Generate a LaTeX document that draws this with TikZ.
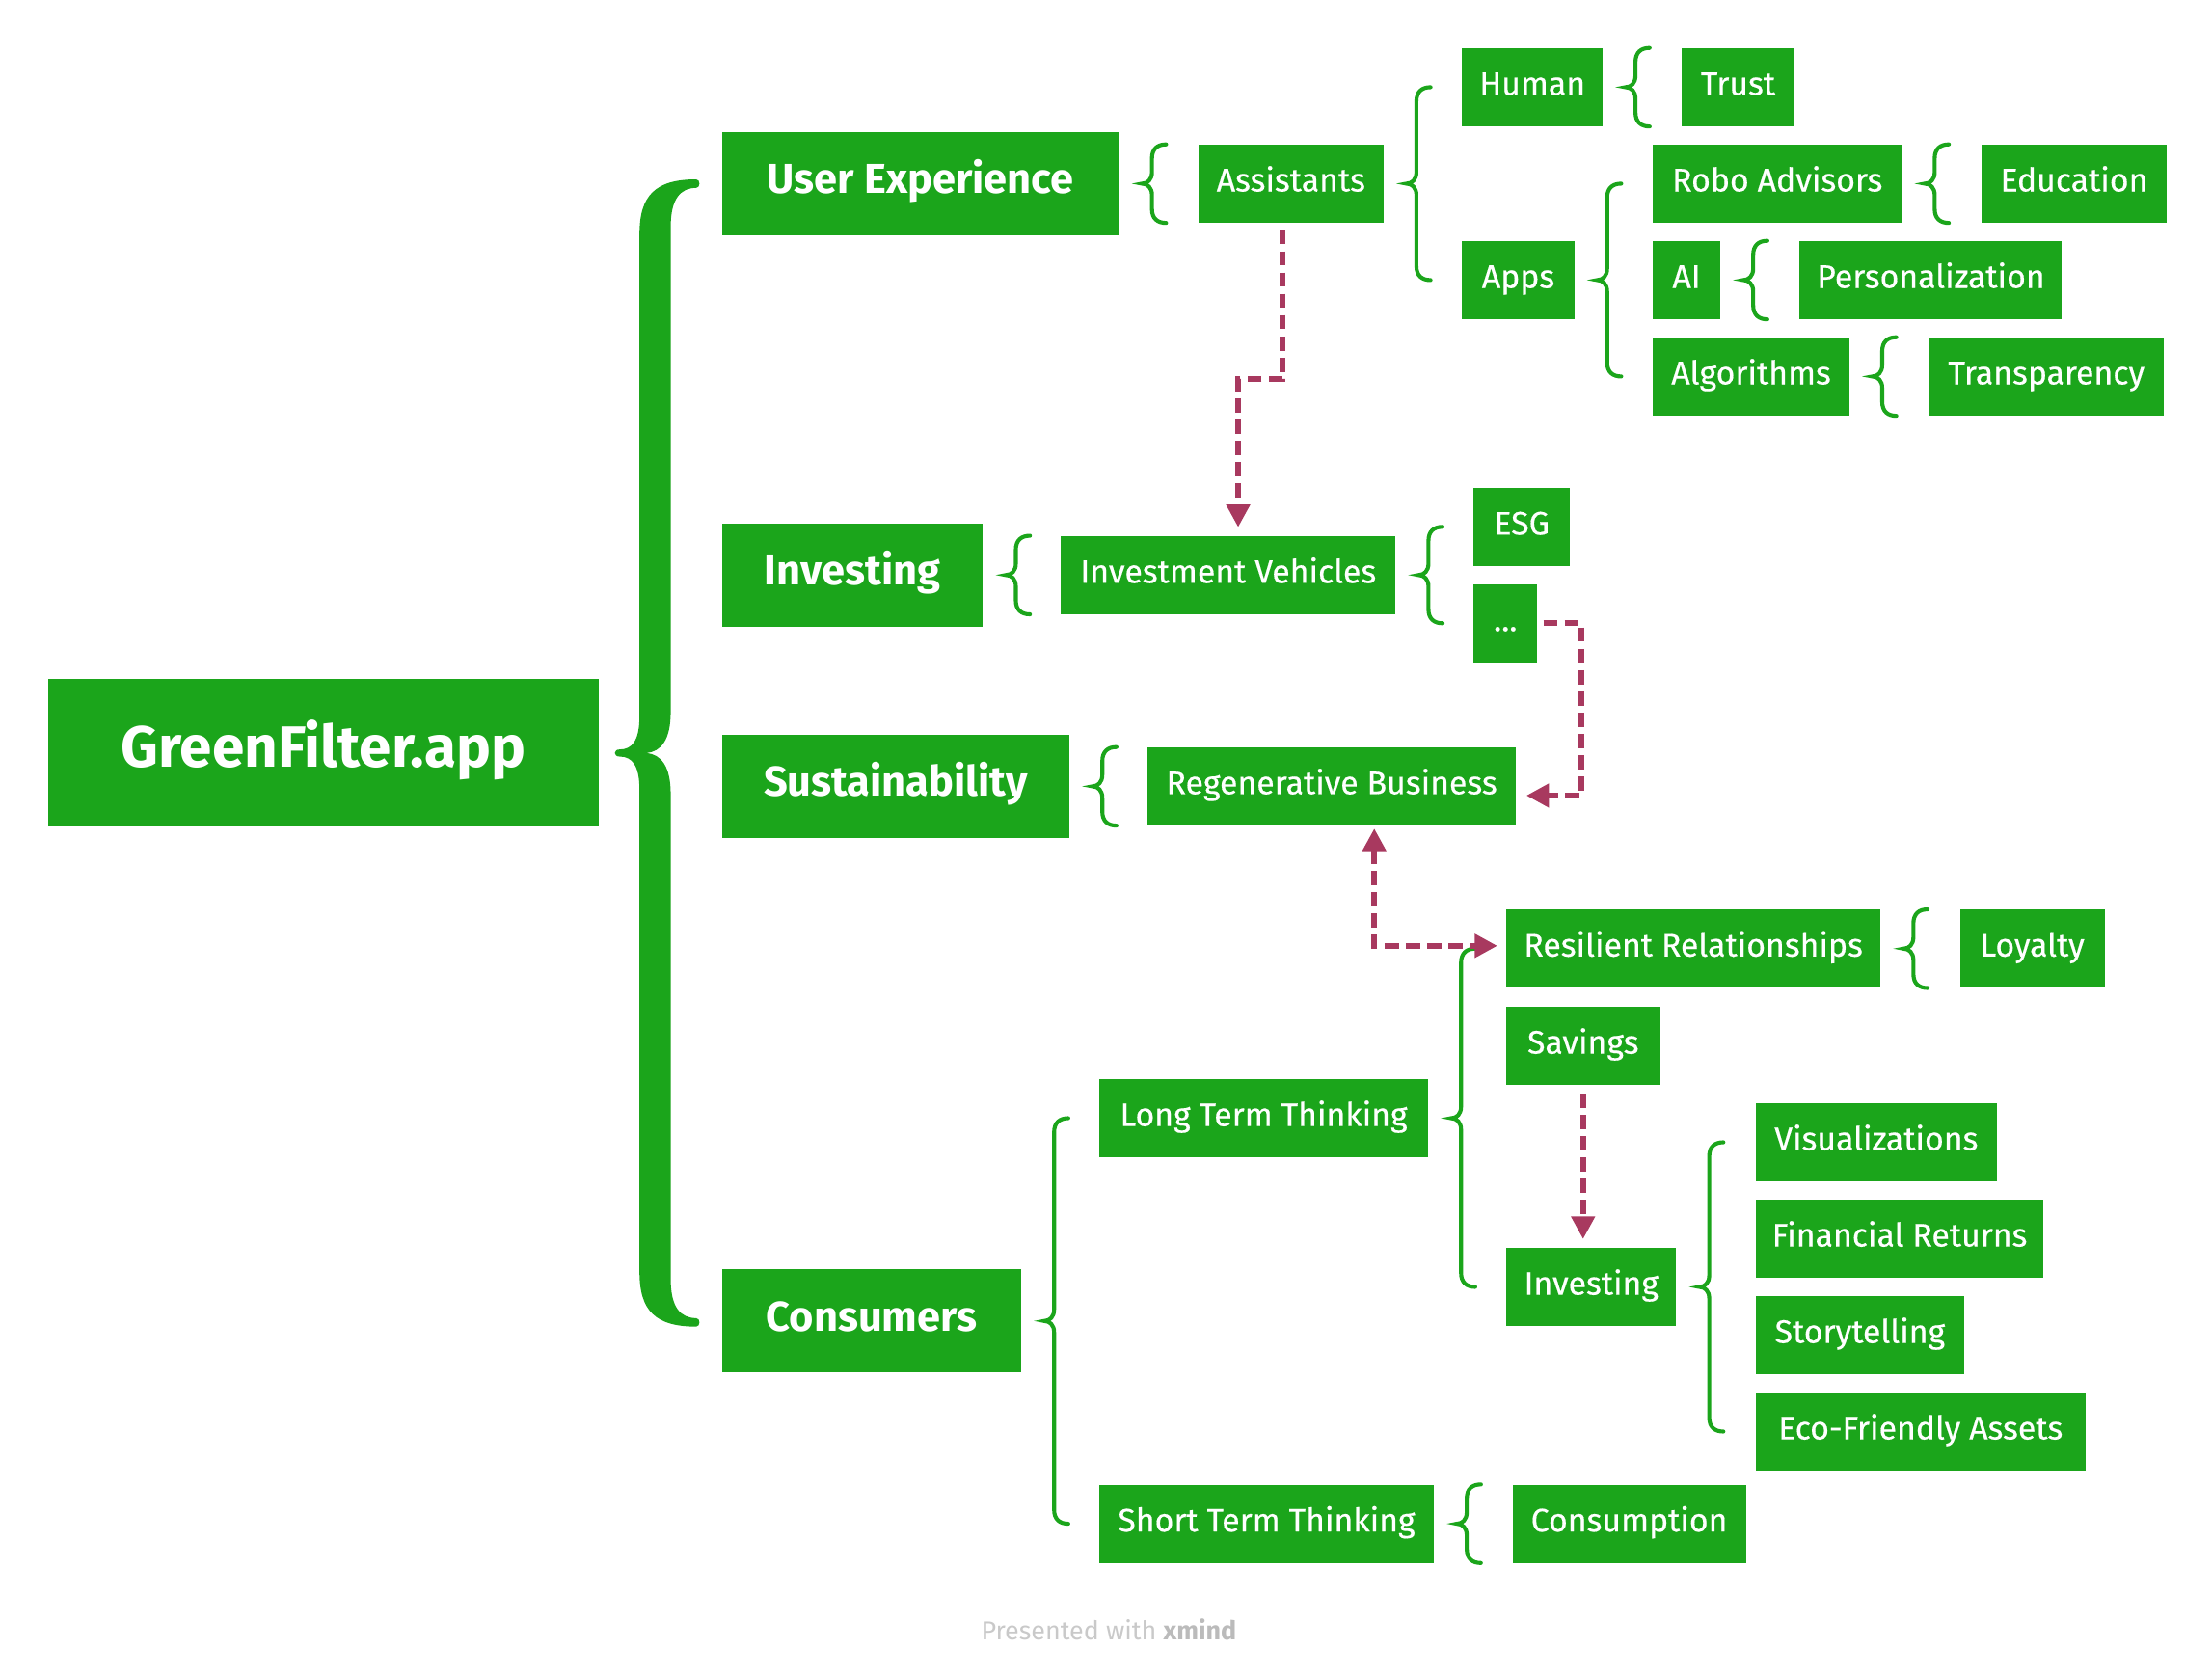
\documentclass[tikz,border=0pt]{standalone}
\usepackage{fontspec}
\setmainfont{Fira Sans}
\newfontfamily\leaffont{Fira Sans}[FakeBold=0.4]
\usetikzlibrary{arrows.meta,calc}

\definecolor{mmgreen}{HTML}{1BA51B}
\definecolor{relred}{HTML}{A8395F}
\definecolor{creditgray}{HTML}{C9C9C9}
\definecolor{creditdark}{HTML}{BBBBBB}

% brace from a parent to its child (or first and last child)
\newcommand{\topicbrace}[3]{%
  \draw[brc] let \p1=(#1.east), \p2=(#2), \p3=(#3) in
    (\x1+33pt,\y2) .. controls (\x1+27pt,\y2) and (\x1+23pt,\y2-3pt) .. (\x1+23pt,\y2-10pt)
    -- (\x1+23pt,\y1+8pt) .. controls (\x1+23pt,\y1+3pt) and (\x1+20pt,\y1) .. (\x1+16pt,\y1)
    .. controls (\x1+20pt,\y1) and (\x1+23pt,\y1-3pt) .. (\x1+23pt,\y1-8pt)
    -- (\x1+23pt,\y3+10pt) .. controls (\x1+23pt,\y3+3pt) and (\x1+27pt,\y3) .. (\x1+33pt,\y3);}

\begin{document}
\begin{tikzpicture}[
    x=1pt, y=-1pt,
    central/.style={fill=mmgreen, text=white, inner sep=0pt, minimum width=388pt, minimum height=104pt,
        font=\bfseries\fontsize{41}{48}\selectfont, text height=28pt, text depth=8pt},
    topic/.style={fill=mmgreen, text=white, inner sep=0pt, anchor=west, minimum height=73pt,
        font=\bfseries\fontsize{29.5}{34}\selectfont, text height=20pt, text depth=6pt},
    leaf/.style={fill=mmgreen, text=white, inner sep=0pt, anchor=west, minimum height=55pt,
        font=\leaffont\fontsize{23}{27}\selectfont, text height=16pt, text depth=5pt},
    brc/.style={draw=mmgreen, line width=2.8pt, line cap=round},
    relline/.style={draw=relred, line width=4pt, dash pattern=on 10pt off 5pt},
    relarrow/.style={relline, -{Triangle[length=16pt,width=16pt]}},
    credit/.style={text=creditgray, font=\fontsize{18.3}{22}\selectfont}
]
    \useasboundingbox (0,0) rectangle (1560,1182);

    \node[central] (gf) at (228,531) {GreenFilter.app};

    \node[topic, minimum width=280pt] (ux) at (509,129.5) {User Experience};
    \node[topic, minimum width=184pt] (inv) at (509,405.5) {Investing};
    \node[topic, minimum width=245pt] (sus) at (509,554.5) {Sustainability};
    \node[topic, minimum width=211pt] (con) at (509,931.5) {Consumers};

    % user experience
    \node[leaf, minimum width=130.5pt] (asst) at (845,129.5) {Assistants};
    \node[leaf, minimum width=99pt] (human) at (1031,61.5) {Human};
    \node[leaf, minimum width=79pt] (trust) at (1186,61.5) {Trust};
    \node[leaf, minimum width=79pt] (apps) at (1031,197.5) {Apps};
    \node[leaf, minimum width=175.5pt] (robo) at (1165.5,129.5) {Robo Advisors};
    \node[leaf, minimum width=131pt] (edu) at (1397,129.5) {Education};
    \node[leaf, minimum width=47.5pt] (ai) at (1165.5,197.5) {AI};
    \node[leaf, minimum width=185pt] (pers) at (1269,197.5) {Personalization};
    \node[leaf, minimum width=138.5pt] (algo) at (1165.5,265.5) {Algorithms};
    \node[leaf, minimum width=166pt] (transp) at (1360,265.5) {Transparency};

    % investing
    \node[leaf, minimum width=236pt] (iv) at (748,405.5) {Investment Vehicles};
    \node[leaf, minimum width=68pt] (esg) at (1039,371.5) {ESG};
    \node[leaf, minimum width=45pt] (dots) at (1039,439.5) {...};

    % sustainability
    \node[leaf, minimum width=260pt] (regen) at (809,554.5) {Regenerative Business};

    % consumers
    \node[leaf, minimum width=232pt] (ltt) at (775,788.5) {Long Term Thinking};
    \node[leaf, minimum width=236pt] (stt) at (775,1074.5) {Short Term Thinking};
    \node[leaf, minimum width=264pt] (rr) at (1062,669) {Resilient Relationships};
    \node[leaf, minimum width=102pt] (loyal) at (1382,669) {Loyalty};
    \node[leaf, minimum width=108.5pt] (sav) at (1062,737.5) {Savings};
    \node[leaf, minimum width=120pt] (inv3) at (1062,907.5) {Investing};
    \node[leaf, minimum width=170pt] (vis) at (1238,805.5) {Visualizations};
    \node[leaf, minimum width=203pt] (fin) at (1238,873.5) {Financial Returns};
    \node[leaf, minimum width=147pt] (story) at (1238,941.5) {Storytelling};
    \node[leaf, minimum width=232.5pt] (eco) at (1238,1009.5) {Eco-Friendly Assets};
    \node[leaf, minimum width=164.5pt] (cons) at (1066.5,1074.5) {Consumption};

    \node[credit] (note) at (782,1149) {Presented with {\color{creditdark}\bfseries xmind}};

    % main brace
    \fill[mmgreen] (491,126.5) .. controls (462,126.5) and (451,138) .. (451,165)
        -- (451,505) .. controls (451,522) and (446,528.5) .. (437,528.5)
        .. controls (432.5,528.5) and (432.5,533.5) .. (437,533.5)
        .. controls (446,533.5) and (451,540) .. (451,557)
        -- (451,897) .. controls (451,924) and (462,935.5) .. (491,935.5)
        .. controls (494,935.5) and (494,929.5) .. (491,929.5)
        .. controls (480,929.5) and (473,922) .. (473,902)
        -- (473,560) .. controls (473,540) and (466,532) .. (456,531)
        .. controls (466,530) and (473,522) .. (473,502)
        -- (473,160) .. controls (473,140) and (480,132.5) .. (491,132.5)
        .. controls (494,132.5) and (494,126.5) .. (491,126.5) -- cycle;

    \topicbrace{ux}{asst.north}{asst.south}
    \topicbrace{asst}{human}{apps}
    \topicbrace{human}{trust.north}{trust.south}
    \topicbrace{apps}{robo}{algo}
    \topicbrace{robo}{edu.north}{edu.south}
    \topicbrace{ai}{pers.north}{pers.south}
    \topicbrace{algo}{transp.north}{transp.south}
    \topicbrace{inv}{iv.north}{iv.south}
    \topicbrace{iv}{esg}{dots}
    \topicbrace{sus}{regen.north}{regen.south}
    \topicbrace{con}{ltt}{stt}
    \topicbrace{ltt}{rr}{inv3}
    \topicbrace{rr}{loyal.north}{loyal.south}
    \topicbrace{inv3}{vis}{eco}
    \topicbrace{stt}{cons.north}{cons.south}

    % relationships
    \draw[relarrow] ([xshift=-6pt,yshift=-5pt]asst.south) |- ($(asst.south)!.5!(iv.north)$) -| ([xshift=7pt,yshift=6pt]iv.north);
    \draw[relarrow] ([xshift=4pt]dots.east) -| ([xshift=46pt,yshift=-6.5pt]regen.east) -- ([xshift=7pt,yshift=-6.5pt]regen.east);
    \draw[relline, {Triangle[length=16pt,width=16pt]}-{Triangle[length=16pt,width=16pt]}] ([xshift=30pt,yshift=-2pt]regen.south) |- ([xshift=-6pt,yshift=2pt]rr.west);
    \draw[relarrow] ([yshift=-6pt]sav.south) -- ($(sav.south |- inv3.north)+(0,-6)$);
\end{tikzpicture}
\end{document}
